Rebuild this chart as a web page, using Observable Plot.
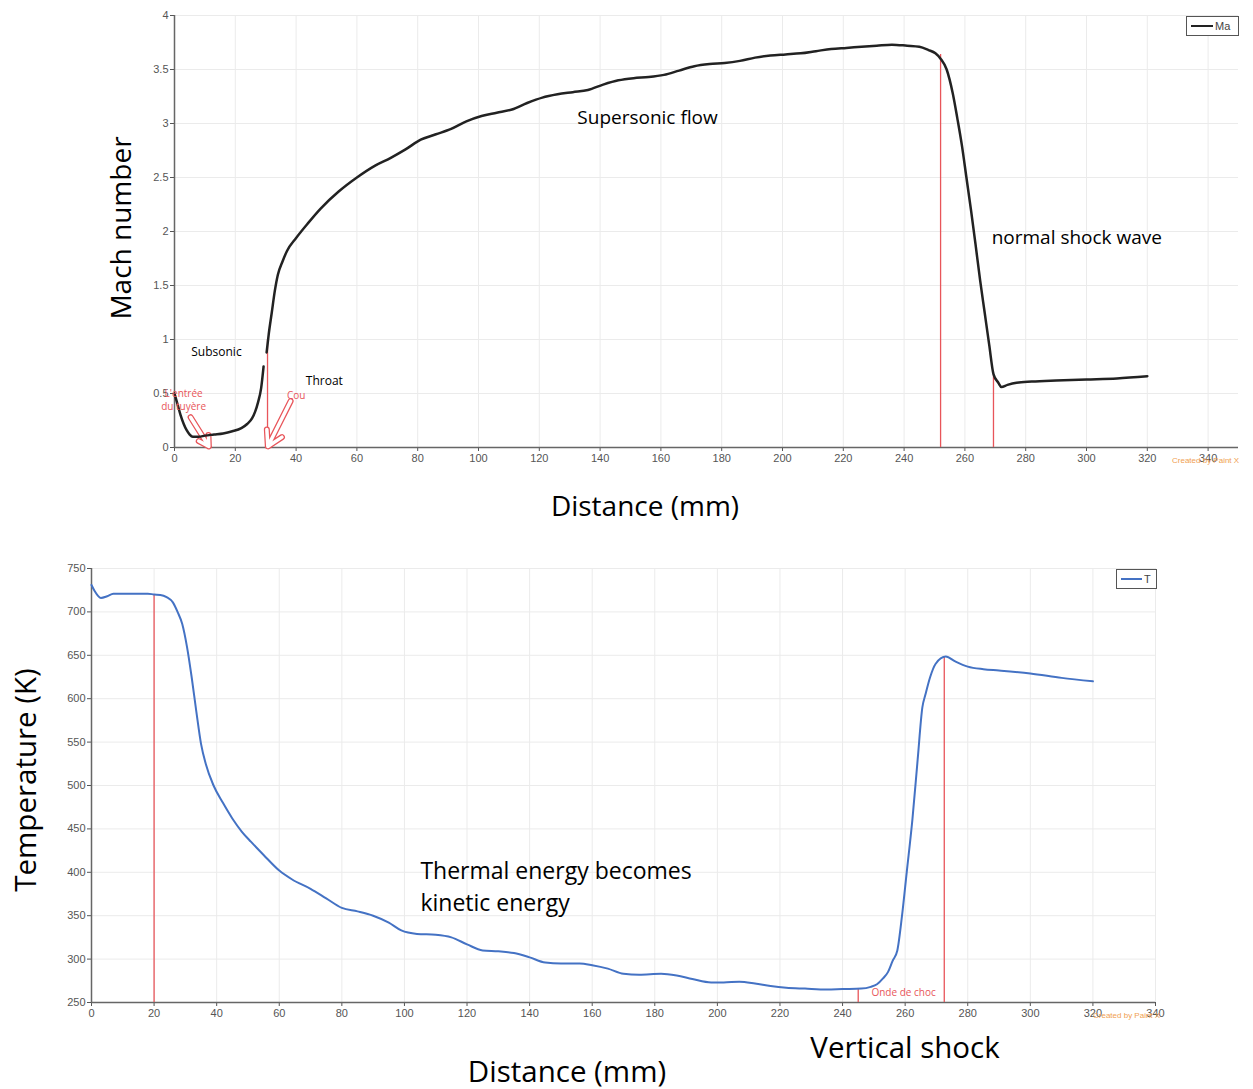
<!DOCTYPE html>
<html><head><meta charset="utf-8">
<script src="https://cdn.jsdelivr.net/npm/d3@7"></script>
<script src="https://cdn.jsdelivr.net/npm/@observablehq/plot@0.6"></script>
<style>
body{margin:0;background:#fff;width:1253px;height:1089px;position:relative;overflow:hidden;font-family:"Open Sans","Noto Sans",sans-serif;color:#000}
.abs{position:absolute;white-space:nowrap}
.big{font-size:28px;line-height:1.1}
.big2{font-size:29.5px;line-height:1.1}
.leg{position:absolute;border:1.5px solid #555;background:#fff;box-sizing:border-box;font-family:"Liberation Sans",Arial,sans-serif;font-size:11px;color:#444;display:flex;align-items:center;padding-left:4px}
.leg span.l{display:inline-block;height:2px;margin-right:2px}
.credit{position:absolute;font-family:"Liberation Sans",Arial,sans-serif;font-size:8px;color:#f0a050;white-space:nowrap}
</style></head><body>
<div id="top" class="abs" style="left:0;top:0"></div>
<div id="bot" class="abs" style="left:0;top:540px"></div>
<div class="abs big" style="left:120px;top:228px;transform:translate(-50%,-50%) rotate(-90deg)">Mach number</div>
<div class="abs big" style="left:645px;top:505px;transform:translate(-50%,-50%)">Distance (mm)</div>
<div class="abs big2" style="left:25px;top:780px;transform:translate(-50%,-50%) rotate(-90deg)">Temperature (K)</div>
<div class="abs big2" style="left:567px;top:1071px;transform:translate(-50%,-50%)">Distance (mm)</div>
<div class="abs big2" style="left:905px;top:1047px;transform:translate(-50%,-50%)">Vertical shock</div>
<div class="leg" style="left:1186px;top:16px;width:53px;height:20px"><span class="l" style="width:22px;background:#222"></span>Ma</div>
<div class="leg" style="left:1116px;top:569px;width:41px;height:20px"><span class="l" style="width:21px;background:#4472c4"></span>T</div>
<div class="credit" style="left:1172px;top:456px">Created by Paint X</div>
<div class="credit" style="left:1093px;top:1011px">Created by Paint X</div>
<script>
// ---- Data ----
const machDist = [0,1,2,3,4,5,6,8,10,13,16,19,22,24,25.5,26.5,27.5,28.5,29.3,29.8,30.3,31,32,33,34,35.5,37,40,44,48,54,60,66,71,76,81,86,91,96,101,106,111,116,121,126,131,136,141,146,151,156,161,166,171,176,181,186,191,196,201,206,211,216,221,226,231,236,241,245,248,250.3,252,254,256,257.5,259,260.5,262,263.5,265,266.5,268,269.4,271,272,274,277,282,290,300,310,320];
const machVal  = [0.50,0.40,0.30,0.22,0.16,0.12,0.10,0.10,0.11,0.12,0.13,0.15,0.18,0.22,0.27,0.33,0.42,0.55,0.75,NaN,0.88,1.05,1.25,1.45,1.60,1.72,1.82,1.94,2.08,2.21,2.37,2.50,2.61,2.68,2.76,2.85,2.90,2.95,3.02,3.07,3.10,3.13,3.19,3.24,3.27,3.29,3.31,3.36,3.40,3.42,3.43,3.45,3.49,3.53,3.55,3.56,3.58,3.61,3.63,3.64,3.65,3.67,3.69,3.70,3.71,3.72,3.73,3.72,3.71,3.68,3.65,3.60,3.50,3.28,3.05,2.80,2.50,2.20,1.88,1.55,1.25,0.95,0.68,0.60,0.56,0.58,0.60,0.61,0.62,0.63,0.64,0.66];

const tempDist = [0,1,3,5,7,10,14,18,20,22,24,26,27.5,29,30.5,32,33.5,35,36.5,39,42,45,48,51,55,60,64,70,75,80,85,90,95,99,104,110,115,120,125,130,135,140,145,150,156,160,165,170,175,182,187,192,198,202,207,212,217,222,228,235,240,246,249,251,253,254.5,256,257.5,259,260.5,262.3,264,265.5,266.5,268,269.7,273,276,280,285,290,300,310,320];
const tempVal  = [731,724,716,718,721,721,721,721,720,719.5,717,711,700,686,660,625,585,548,525,500,480,462,447,435,420,402,392,381,370,359,355,350,342,333,329,328,325,317,310,309,307,302,296,295,295,293,289,283,282,283,281,277,273,273,274,272,269,267,266,265,265.5,266,268,271,278,285,298,310,350,400,460,530,590,605,625,640,648.5,643,637,634,632.5,629,624,620];

const topXTicks = [0,20,40,60,80,100,120,140,160,180,200,220,240,260,280,300,320,340];
const topYTicks = [0,0.5,1,1.5,2,2.5,3,3.5,4];
const botXTicks = [0,20,40,60,80,100,120,140,160,180,200,220,240,260,280,300,320,340];
const botYTicks = [250,300,350,400,450,500,550,600,650,700,750];

// red marker lines (x position, top value)
const topMarkX = [30.6,252,269.4];
const topMarkTop = [1.0,3.64,0.67];
const botMarkX = [20,245,272.5];
const botMarkTop = [720,266,648.5];

// annotations
const topCenterNotes = [{x:155.6,y:3.05,t:"Supersonic flow"}];
const topStartNotes = [{x:268.8,y:1.94,t:"normal shock wave"}];
const topSmallNotes = [
  {x:13.8,y:0.88,t:"Subsonic"},
  {x:49.3,y:0.61,t:"Throat"}
];
const topRedNotes = [
  {x:3,y:0.50,t:"L'entrée"},
  {x:3,y:0.38,t:"du tuyère"},
  {x:40,y:0.48,t:"Cou"}
];
const topArrows = [
  {x1:5.3,y1:0.28,x2:11.3,y2:0.01},
  {x1:38.2,y1:0.43,x2:30.7,y2:0.01}
];
const botNotes = [
  {x:105.1,y:401,t:"Thermal energy becomes"},
  {x:105.1,y:364,t:"kinetic energy"}
];
const botRedNotes = [{x:259.5,y:261.5,t:"Onde de choc"}];

const machData = machDist.map((d,i)=>({d, v:machVal[i]}));
const tempData = tempDist.map((d,i)=>({d, v:tempVal[i]}));
const topMarks = topMarkX.map((x,i)=>({x, top:topMarkTop[i]}));
const botMarks = botMarkX.map((x,i)=>({x, top:botMarkTop[i]}));

const tickFont = {fontFamily:"'Liberation Sans',Arial,sans-serif", fontSize:"11px", color:"#444", background:"transparent", overflow:"visible"};
const noteFont = "'Open Sans','Noto Sans',sans-serif";

const topPlot = Plot.plot({
  width:1253, height:480,
  marginLeft:174, marginRight:15, marginTop:15, marginBottom:33,
  x:{domain:[0,350]}, y:{domain:[0,4]},
  style:tickFont,
  marks:[
    Plot.gridX(topXTicks.filter(d=>d>0), {stroke:"#ebebeb", strokeOpacity:1}),
    Plot.gridY(topYTicks.filter(d=>d>0), {stroke:"#ebebeb", strokeOpacity:1}),
    Plot.axisX(topXTicks, {tickSize:4, tickPadding:3, tickFormat:d=>String(d), stroke:"#555", fill:"#555", label:null}),
    Plot.axisY(topYTicks, {tickSize:4, tickPadding:2, tickFormat:d=>String(d), stroke:"#555", fill:"#555", label:null}),
    Plot.ruleY([0], {stroke:"#666", strokeWidth:1.5}),
    Plot.ruleX([0], {y1:0, y2:4, stroke:"#666", strokeWidth:1.5}),
    Plot.ruleX(topMarks, {x:"x", y1:0, y2:"top", stroke:"#e8555a", strokeWidth:1.3}),
    Plot.arrow(topArrows, {x1:"x1", y1:"y1", x2:"x2", y2:"y2", stroke:"#e8555a", strokeWidth:6, headLength:12}),
    Plot.arrow(topArrows, {x1:"x1", y1:"y1", x2:"x2", y2:"y2", stroke:"#fff", strokeWidth:3.5, headLength:9}),
    Plot.line(machData, {x:"d", y:"v", stroke:"#222", strokeWidth:2.5, curve:"monotone-x"}),
    Plot.text(topRedNotes, {x:"x", y:"y", text:"t", fill:"#e8555a", fontSize:10, fontFamily:noteFont}),
    Plot.text(topCenterNotes, {x:"x", y:"y", text:"t", textAnchor:"middle", fontSize:19, fill:"#000", fontFamily:noteFont}),
    Plot.text(topStartNotes, {x:"x", y:"y", text:"t", textAnchor:"start", fontSize:19, fill:"#000", fontFamily:noteFont}),
    Plot.text(topSmallNotes, {x:"x", y:"y", text:"t", fontSize:12, fill:"#000", fontFamily:noteFont})
  ]
});
document.getElementById("top").append(topPlot);

const botPlot = Plot.plot({
  width:1253, height:490,
  marginLeft:91, marginRight:98, marginTop:28, marginBottom:28,
  x:{domain:[0,340]}, y:{domain:[250,750]},
  style:tickFont,
  marks:[
    Plot.gridX(botXTicks.filter(d=>d>0), {stroke:"#ebebeb", strokeOpacity:1}),
    Plot.gridY(botYTicks.filter(d=>d>250), {stroke:"#ebebeb", strokeOpacity:1}),
    Plot.axisX(botXTicks, {tickSize:4, tickPadding:3, tickFormat:d=>String(d), stroke:"#555", fill:"#555", label:null}),
    Plot.axisY(botYTicks, {tickSize:4, tickPadding:2, tickFormat:d=>String(d), stroke:"#555", fill:"#555", label:null}),
    Plot.ruleY([250], {stroke:"#666", strokeWidth:1.5}),
    Plot.ruleX([0], {y1:250, y2:750, stroke:"#666", strokeWidth:1.5}),
    Plot.ruleX(botMarks, {x:"x", y1:250, y2:"top", stroke:"#e8555a", strokeWidth:1.3}),
    Plot.line(tempData, {x:"d", y:"v", stroke:"#4472c4", strokeWidth:2, curve:"monotone-x"}),
    Plot.text(botRedNotes, {x:"x", y:"y", text:"t", fill:"#e8555a", fontSize:10, fontFamily:noteFont}),
    Plot.text(botNotes, {x:"x", y:"y", text:"t", textAnchor:"start", fontSize:23, fill:"#000", fontFamily:noteFont})
  ]
});
document.getElementById("bot").append(botPlot);
</script>
</body></html>
